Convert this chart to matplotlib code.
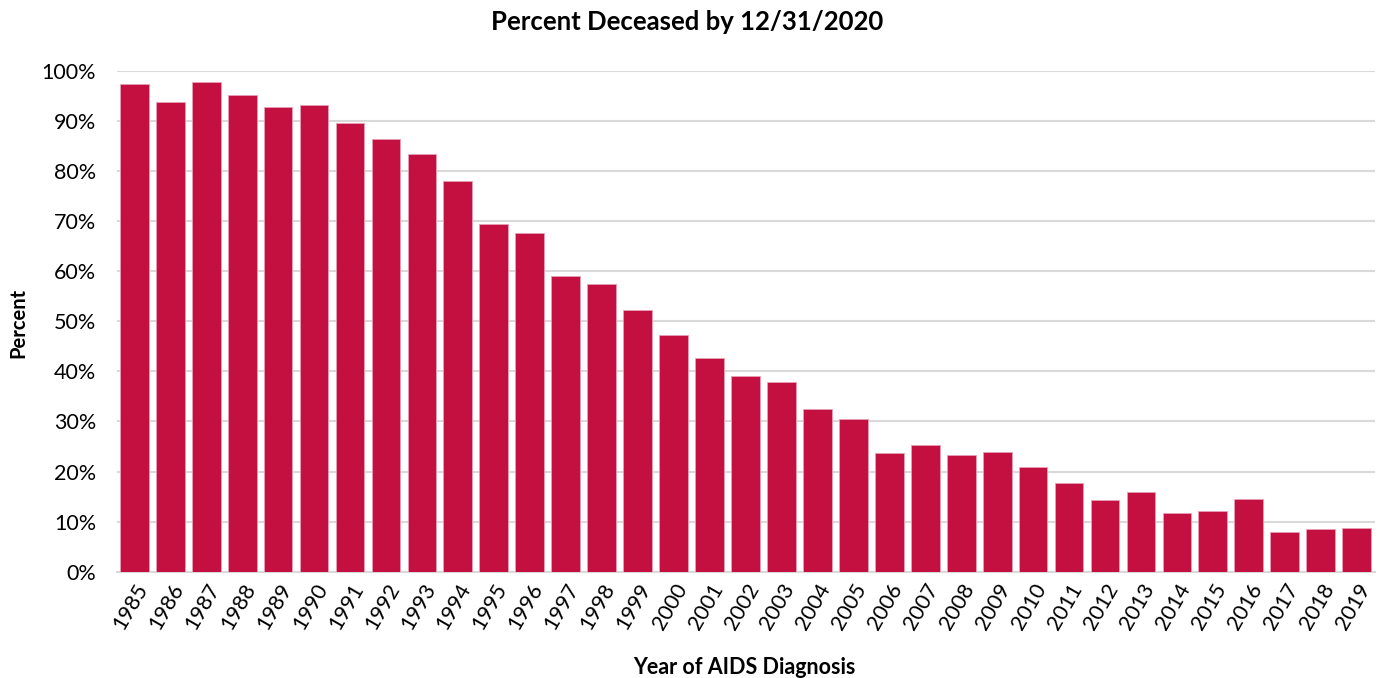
import numpy as np
import matplotlib.pyplot as plt
from matplotlib.ticker import PercentFormatter

plt.rcParams['font.family'] = ['Lato', 'DejaVu Sans']

years = [str(y) for y in range(1985, 2020)]
pct_deceased = [97.5, 93.8, 97.8, 95.2, 92.8, 93.2, 89.6, 86.5, 83.5, 78.1,
                69.5, 67.6, 59.1, 57.4, 52.2, 47.2, 42.6, 39.0, 37.9, 32.4,
                30.4, 23.8, 25.3, 23.3, 24.0, 21.0, 17.8, 14.4, 16.0, 11.7,
                12.2, 14.6, 8.0, 8.5, 8.8]

bar_color = '#c41040'
grid_color = '#d9d9d9'

fig = plt.figure(figsize=(13.79, 6.78), dpi=100)
ax = fig.add_axes([0.0848, 0.1568, 0.9123, 0.7385])

x = np.arange(len(years))
ax.bar(x, pct_deceased, width=0.80, color=bar_color, edgecolor='#e8a0b4',
       linewidth=0.6, zorder=3)

ax.set_xlim(-0.483, len(years) - 0.49)
ax.set_ylim(0, 100)
ax.set_yticks(np.arange(0, 101, 10))
ax.yaxis.set_major_formatter(PercentFormatter(decimals=0))
ax.set_xticks(x)
ax.set_xticklabels(years, rotation=60, ha='right', va='top',
                   rotation_mode='anchor')
ax.tick_params(axis='both', length=0, labelsize=15.5, colors='black')
ax.tick_params(axis='y', pad=15)
ax.tick_params(axis='x', pad=6)

ax.grid(axis='y', color=grid_color, linewidth=1.5, zorder=0)
for side in ['top', 'right', 'left']:
    ax.spines[side].set_visible(False)
ax.spines['bottom'].set_color(grid_color)
ax.spines['bottom'].set_linewidth(1.5)

fig.text(0.498, 0.9676, 'Percent Deceased by 12/31/2020', ha='center',
         va='center', fontsize=18.5, fontweight='bold')
fig.text(0.013, 0.524, 'Percent', ha='center', va='center', rotation=90,
         fontsize=14.5, fontweight='bold')
fig.text(0.540, 0.016, 'Year of AIDS Diagnosis', ha='center', va='center',
         fontsize=15.5, fontweight='bold')

fig.savefig('out.png', dpi=100)
